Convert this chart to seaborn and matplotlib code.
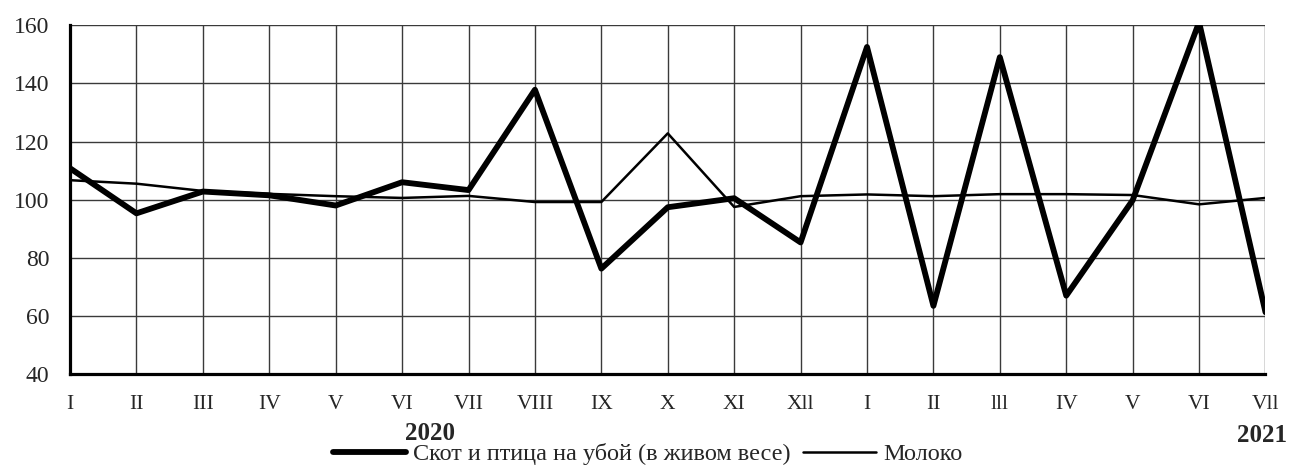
import matplotlib
matplotlib.use("Agg")
import matplotlib.pyplot as plt
import seaborn as sns
import pandas as pd
from matplotlib.lines import Line2D

# month labels as printed (2020: I..XII, 2021: I..VII)
months = ["I", "II", "III", "IV", "V", "VI", "VII", "VIII", "IX", "X", "XI", "Xll",
          "I", "II", "lll", "IV", "V", "VI", "Vll"]
cattle = [110.8, 95.3, 102.8, 101.5, 98.0, 106.0, 103.3, 137.8, 76.3, 97.4, 100.5, 85.3,
          152.5, 63.5, 149.0, 67.0, 99.8, 161.0, 61.3]
milk = [106.7, 105.5, 103.0, 102.0, 101.2, 100.6, 101.3, 99.2, 99.2, 122.8, 97.5, 101.2,
        101.8, 101.2, 101.9, 101.9, 101.6, 98.4, 100.6]

label_cattle = "Скот и птица на убой (в живом весе)"
label_milk = "Молоко"

df = pd.DataFrame({"pos": range(len(months)), "cattle": cattle, "milk": milk})

sns.set_style("white")
plt.rcParams['font.family'] = ['Liberation Serif', 'DejaVu Serif']

fig = plt.figure(figsize=(12.9, 4.66), dpi=100)
ax = fig.add_axes([0.0543, 0.197, 0.9267, 0.749])

sns.lineplot(data=df, x="pos", y="milk", ax=ax, color="black", linewidth=1.8)
sns.lineplot(data=df, x="pos", y="cattle", ax=ax, color="black", linewidth=4.2)

ax.set_xlim(0, len(months) - 1)
ax.set_ylim(40, 160)
ax.set_yticks(range(40, 161, 20))
ax.set_xticks(range(len(months)))
ax.set_xticklabels(months)
ax.set_xlabel("")
ax.set_ylabel("")
ax.tick_params(axis='y', length=0, pad=15, labelsize=17)
ax.tick_params(axis='x', length=0, pad=15, labelsize=15.5)

ax.grid(True, color="#3a3a3a", linewidth=1.0)
ax.set_axisbelow(True)
for s in ["top", "right"]:
    ax.spines[s].set_visible(False)
for s in ["left", "bottom"]:
    ax.spines[s].set_linewidth(2.3)
    ax.spines[s].set_color("black")

fig.text(430 / 1290, 1 - 433 / 466, "2020", ha="center", va="center", fontsize=18, fontweight="bold")
fig.text(1262 / 1290, 1 - 435 / 466, "2021", ha="center", va="center", fontsize=18, fontweight="bold")

handles = [Line2D([], [], color="black", linewidth=4.2),
           Line2D([], [], color="black", linewidth=1.8)]
fig.legend(handles, [label_cattle, label_milk], loc="center", bbox_to_anchor=(0.502, 1 - 454 / 466),
           ncol=2, frameon=False, fontsize=17.5, handlelength=3.0, handletextpad=0.3,
           columnspacing=0.5, borderpad=0)

fig.savefig("out.png", dpi=100)
